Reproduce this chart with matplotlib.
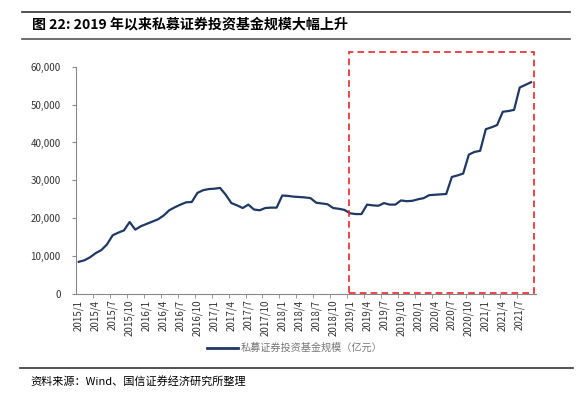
import matplotlib.pyplot as plt
from matplotlib.patches import Rectangle
from matplotlib.lines import Line2D

plt.rcParams['font.family'] = ['Noto Sans CJK SC', 'DejaVu Sans']

# monthly scale, 2015/1 .. 2021/9 (亿元)
months = [f'{y}/{m}' for y in range(2015, 2022) for m in range(1, 13)][:81]
scale = [
    8500, 8900, 9700, 10800, 11600, 13100, 15500, 16200, 16800, 19000, 17000, 17900,
    18500, 19100, 19700, 20700, 22100, 22900, 23600, 24200, 24300, 26700, 27400, 27700,
    27800, 28000, 26200, 24000, 23400, 22700, 23600, 22300, 22100, 22700, 22800, 22800,
    26000, 25900, 25700, 25600, 25500, 25300, 24100, 23900, 23700, 22700, 22500, 22200,
    21300, 21100, 21100, 23600, 23400, 23300, 24000, 23600, 23600, 24700, 24500, 24600,
    25000, 25300, 26100, 26200, 26300, 26400, 30900, 31300, 31800, 36800, 37500, 37800,
    43500, 44000, 44600, 48100, 48300, 48600, 54500, 55200, 55900,
]
title = '图 22: 2019 年以来私募证券投资基金规模大幅上升'
series_name = '私募证券投资基金规模（亿元）'
source = '资料来源：Wind、国信证券经济研究所整理'

fig = plt.figure(figsize=(5.84, 3.97), dpi=100)
ax = fig.add_axes([0.130, 0.2594, 0.788, 0.5726])

x = list(range(len(scale)))
ax.plot(x, scale, color='#1F3864', lw=1.6)

ax.set_xlim(-0.5, len(scale) - 0.5 + 0.4)
ax.set_ylim(0, 60000)
ax.set_yticks(range(0, 60001, 10000))
ax.set_yticklabels([f'{v:,}' for v in range(0, 60001, 10000)], fontsize=7, color='#333333')
ax.set_xticks(x[::3])
ax.set_xticklabels(months[::3], rotation=90, fontsize=7, color='#333333')
ax.set_xticks([i - 0.5 for i in x[::3]][1:], minor=True)
ax.tick_params(axis='x', which='major', length=0, pad=4)
ax.tick_params(axis='x', which='minor', length=3, color='#888888')
ax.tick_params(axis='y', length=3, color='#888888', pad=8)
for s in ['top', 'right']:
    ax.spines[s].set_visible(False)
for s in ['left', 'bottom']:
    ax.spines[s].set_color('#888888')
    ax.spines[s].set_linewidth(0.8)

# highlight box since 2019
ax.add_patch(Rectangle((47.8, 200), 80.56 - 47.8, 63800, fill=False, ec='#E8282B',
                       ls=(0, (4, 2.5)), lw=1.2, clip_on=False, zorder=5))

# legend
fig.add_artist(Line2D([207 / 584, 238 / 584], [1 - 348 / 397] * 2, color='#1F3864', lw=2))
fig.text(241 / 584, 1 - 348 / 397, series_name, fontsize=7.3, color='#777777', va='center')

# title and source
fig.add_artist(Line2D([22 / 584, 570 / 584], [1 - 12 / 397] * 2, color='#333333', lw=1.2))
fig.add_artist(Line2D([22 / 584, 570 / 584], [1 - 39 / 397] * 2, color='#555555', lw=1.2))
fig.text(32 / 584, 1 - 24 / 397, title, fontsize=10.1, fontweight='bold', va='center')
fig.add_artist(Line2D([20 / 584, 573 / 584], [1 - 368 / 397] * 2, color='#333333', lw=1.2))
fig.text(30 / 584, 1 - 381 / 397, source, fontsize=8, va='center')

fig.savefig('out.png', dpi=100)
